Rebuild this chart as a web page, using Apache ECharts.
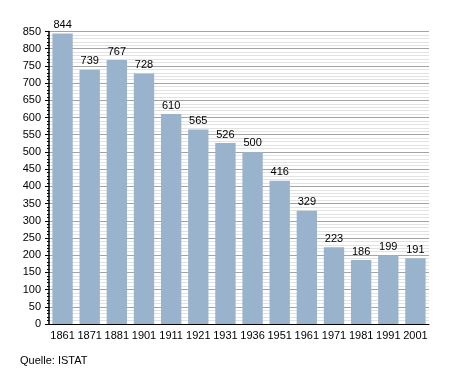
<!DOCTYPE html>
<html><head><meta charset="utf-8">
<script src="https://cdn.jsdelivr.net/npm/echarts@6/dist/echarts.min.js"></script>
<style>html,body{margin:0;padding:0;background:#fff}#c{width:455px;height:373px}</style>
</head><body><div id="c"></div>
<script>
var years = ['1861','1871','1881','1901','1911','1921','1931','1936','1951','1961','1971','1981','1991','2001'];
var population = [844,739,767,728,610,565,526,500,416,329,223,186,199,191];
var source = 'Quelle: ISTAT';
var chart = echarts.init(document.getElementById('c'), null, {renderer:'canvas'});
var font = 'Liberation Sans, Arial, sans-serif';
chart.setOption({
  animation:false,
  textStyle:{fontFamily:font},
  graphic:[{type:'text',left:20,top:355,style:{text:source,font:'11px Liberation Sans, Arial, sans-serif',fill:'#000'}}],
  grid:{left:49,right:26,top:31.5,bottom:49,containLabel:false},
  xAxis:{type:'category',data:years,
    axisLine:{lineStyle:{color:'#000',width:1}},
    axisTick:{show:false},
    axisLabel:{color:'#000',fontSize:11,fontFamily:font,margin:6,interval:0}},
  yAxis:{type:'value',min:0,max:850,interval:50,
    axisLine:{show:true,lineStyle:{color:'#000',width:1.5}},
    axisTick:{show:true,length:4,lineStyle:{color:'#000'}},
    minorTick:{show:true,splitNumber:5,length:2,lineStyle:{color:'#000'}},
    splitLine:{lineStyle:{color:'#a4a4a4',width:1}},
    minorSplitLine:{show:true,lineStyle:{color:'#e2e2e2',width:1}},
    axisLabel:{color:'#000',fontSize:11,fontFamily:font,margin:8}},
  series:[{type:'bar',data:population,barCategoryGap:'25%',
    itemStyle:{color:'#9ab3cd'},
    label:{show:true,position:'top',color:'#000',fontSize:11,fontFamily:font,distance:3}}]
});
</script></body></html>
